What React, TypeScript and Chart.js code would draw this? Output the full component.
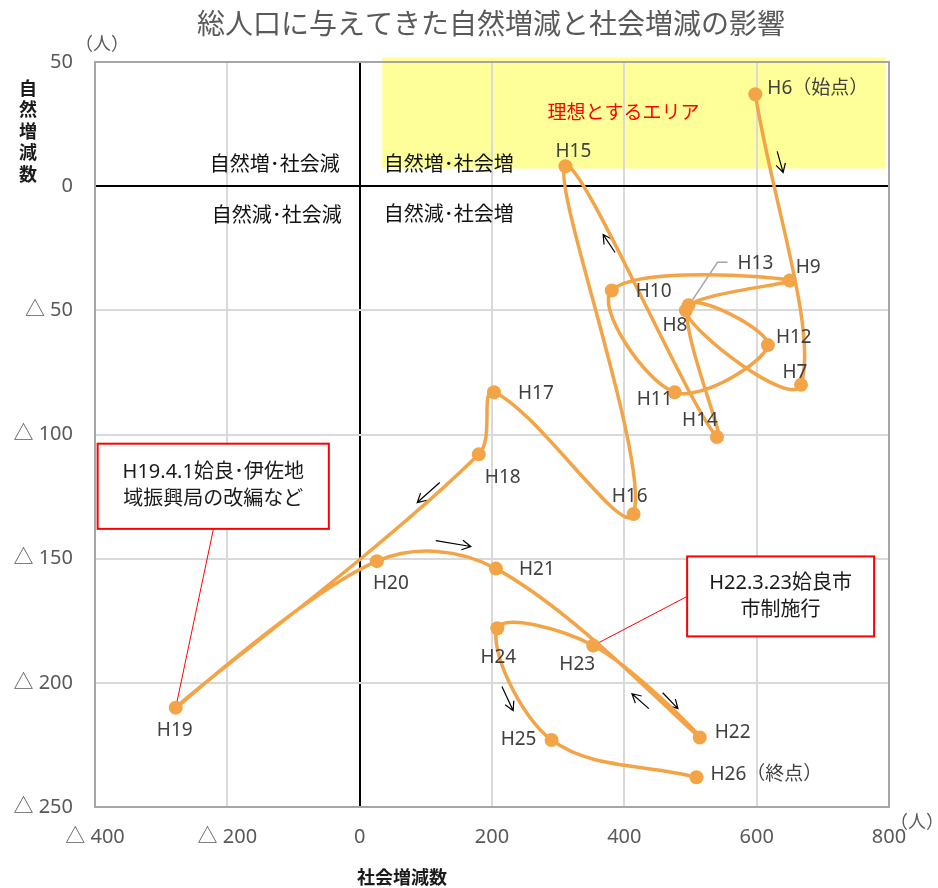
import React, { useEffect, useRef } from "react";
import { Chart, registerables } from "chart.js";

Chart.register(...registerables);

// ---- data ----
const pointLabels = [
  "H6（始点）", "H7", "H8", "H9", "H10", "H11", "H12", "H13", "H14", "H15", "H16",
  "H17", "H18", "H19", "H20", "H21", "H22", "H23", "H24", "H25", "H26（終点）",
];
const socialChange = [598, 667, 493, 650, 381, 476, 617, 497, 540, 311, 414, 203, 180, -278, 26, 206, 514, 353, 208, 290, 509];
const naturalChange = [37, -80, -50, -38, -42, -83, -64, -48, -101, 8, -132, -83, -108, -210, -151, -154, -222, -185, -178, -223, -238];

const xTickValues = [-400, -200, 0, 200, 400, 600, 800];
const yTickValues = [50, 0, -50, -100, -150, -200, -250];

const titleText = "総人口に与えてきた自然増減と社会増減の影響";
const xAxisTitle = "社会増減数";
const yAxisTitle = "自然増減数";
const unitText = "（人）";
const idealAreaText = "理想とするエリア";
const quadrantTexts = ["自然増･社会減", "自然減･社会減", "自然増･社会増", "自然減･社会増"];
const note1Lines = ["H19.4.1姶良･伊佐地", "域振興局の改編など"];
const note2Lines = ["H22.3.23姶良市", "市制施行"];

// ---- styling / placement (not data) ----
const ORANGE = "#F2A446";
const LATIN = "'Noto Sans', 'Noto Sans CJK JP', sans-serif";
const CJK = "'Noto Sans CJK JP', 'Noto Sans', sans-serif";

// label offsets: [dx, dy, align]
const labelPlacement: [number, number, CanvasTextAlign][] = [
  [12, -6, "left"],   // H6
  [-6, -12, "center"], // H7
  [-11, 15, "center"], // H8
  [6, -13, "left"],   // H9
  [24, 1, "left"],    // H10
  [-20, 7, "center"], // H11
  [8, -8, "left"],    // H12
  [49, -42, "left"],  // H13
  [-17, -16, "center"], // H14
  [8, -15, "center"], // H15
  [-4, -17, "center"], // H16
  [24, 1, "left"],    // H17
  [24, 23, "center"], // H18
  [-1, 23, "center"], // H19
  [14, 22, "center"], // H20
  [23, 1, "left"],    // H21
  [15, -5, "left"],   // H22
  [-16, 19, "center"], // H23
  [1, 29, "center"],  // H24
  [-33, 0, "center"], // H25
  [14, -3, "left"],   // H26
];

// arrows in data units: [x1, y1, x2(head), y2(head)]
const arrows = [
  [631, 14, 640, 5.5],
  [386, -26.7, 368, -19.5],
  [121, -119.3, 87, -127.4],
  [115, -142.7, 168, -145.1],
  [458, -204, 481, -210.4],
  [437, -210.4, 411.5, -204.4],
  [215, -201.5, 232, -211.2],
];

const idealArea = { x1: 34, x2: 795, y1: 51.8, y2: 7.1 };
const note1Box = { x1: -396, x2: -46.6, y1: -103.7, y2: -138, anchorX: -221, target: 13 };
const note2Box = { x1: 494.9, x2: 777.5, y1: -149.1, y2: -181.3, target: 17 };

function fmt(v: number) {
  return v < 0 ? "△ " + -v : String(v);
}

const decorPlugin = {
  id: "decor",
  beforeDraw(chart: any) {
    const { ctx, scales } = chart;
    const xs = scales.x, ys = scales.y;
    ctx.save();
    ctx.fillStyle = "#FFFF99";
    const x1 = xs.getPixelForValue(idealArea.x1);
    const x2 = xs.getPixelForValue(idealArea.x2);
    const y1 = ys.getPixelForValue(idealArea.y1);
    const y2 = ys.getPixelForValue(idealArea.y2);
    ctx.fillRect(x1, y1, x2 - x1, y2 - y1);
    ctx.restore();
  },
  beforeDatasetsDraw(chart: any) {
    const { ctx, chartArea: a, scales } = chart;
    const xs = scales.x, ys = scales.y;
    ctx.save();
    // plot border
    ctx.strokeStyle = "#A6A6A6";
    ctx.lineWidth = 2;
    ctx.strokeRect(a.left, a.top, a.right - a.left, a.bottom - a.top);

    // quadrant texts
    const x0 = xs.getPixelForValue(0);
    const y0 = ys.getPixelForValue(0);
    ctx.font = "20px " + CJK;
    ctx.fillStyle = "#111111";
    ctx.textBaseline = "middle";
    ctx.textAlign = "right";
    ctx.fillText(quadrantTexts[0], x0 - 20, y0 - 23);
    ctx.fillText(quadrantTexts[1], x0 - 18, y0 + 28);
    ctx.textAlign = "left";
    ctx.fillText(quadrantTexts[2], x0 + 24, y0 - 23);
    ctx.fillText(quadrantTexts[3], x0 + 24, y0 + 27);

    // ideal area text
    ctx.font = "19px " + CJK;
    ctx.fillStyle = "#FF0000";
    ctx.fillText(idealAreaText, xs.getPixelForValue(284), ys.getPixelForValue(30));

    // arrows
    ctx.strokeStyle = "#000";
    ctx.lineWidth = 1.2;
    for (const [ax1, ay1, ax2, ay2] of arrows) {
      const p1x = xs.getPixelForValue(ax1), p1y = ys.getPixelForValue(ay1);
      const p2x = xs.getPixelForValue(ax2), p2y = ys.getPixelForValue(ay2);
      const ang = Math.atan2(p2y - p1y, p2x - p1x);
      const L = 10;
      ctx.beginPath();
      ctx.moveTo(p1x, p1y);
      ctx.lineTo(p2x, p2y);
      ctx.moveTo(p2x - L * Math.cos(ang - 0.5), p2y - L * Math.sin(ang - 0.5));
      ctx.lineTo(p2x, p2y);
      ctx.lineTo(p2x - L * Math.cos(ang + 0.5), p2y - L * Math.sin(ang + 0.5));
      ctx.stroke();
    }

    // note boxes
    const meta = chart.getDatasetMeta(0);
    const drawBox = (b: any, lines: string[], anchor: (bx1: number, by1: number, bx2: number, by2: number) => [number, number]) => {
      const bx1 = xs.getPixelForValue(b.x1), bx2 = xs.getPixelForValue(b.x2);
      const by1 = ys.getPixelForValue(b.y1), by2 = ys.getPixelForValue(b.y2);
      const pt = meta.data[b.target];
      const [lx, ly] = anchor(bx1, by1, bx2, by2);
      ctx.strokeStyle = "#FF0000";
      ctx.lineWidth = 1;
      ctx.beginPath();
      ctx.moveTo(lx, ly);
      ctx.lineTo(pt.x, pt.y);
      ctx.stroke();
      ctx.fillStyle = "#FFFFFF";
      ctx.fillRect(bx1, by1, bx2 - bx1, by2 - by1);
      ctx.lineWidth = 2;
      ctx.strokeRect(bx1, by1, bx2 - bx1, by2 - by1);
      ctx.fillStyle = "#1a1a1a";
      ctx.font = "20px " + LATIN;
      ctx.textAlign = "center";
      ctx.textBaseline = "middle";
      const cx = (bx1 + bx2) / 2;
      const cy = (by1 + by2) / 2;
      lines.forEach((t, i) => ctx.fillText(t, cx, cy + (i - (lines.length - 1) / 2) * 27));
    };
    drawBox(note1Box, note1Lines, (bx1, by1, bx2, by2) => [xs.getPixelForValue(note1Box.anchorX), by2]);
    drawBox(note2Box, note2Lines, (bx1, by1, bx2, by2) => [bx1, (by1 + by2) / 2]);

    // H13 leader
    const p13 = meta.data[7];
    ctx.strokeStyle = "#A6A6A6";
    ctx.lineWidth = 1.5;
    ctx.beginPath();
    ctx.moveTo(p13.x + 39, p13.y - 43);
    ctx.lineTo(p13.x + 29, p13.y - 43);
    ctx.lineTo(p13.x + 1, p13.y - 1);
    ctx.stroke();
    ctx.restore();
  },
  afterDatasetsDraw(chart: any) {
    const { ctx } = chart;
    const meta = chart.getDatasetMeta(0);
    ctx.save();
    ctx.font = "19px " + LATIN;
    ctx.fillStyle = "#404040";
    ctx.textBaseline = "middle";
    meta.data.forEach((el: any, i: number) => {
      const [dx, dy, al] = labelPlacement[i];
      ctx.textAlign = al;
      ctx.fillText(pointLabels[i], el.x + dx, el.y + dy);
    });
    ctx.restore();
  },
  afterDraw(chart: any) {
    const { ctx } = chart;
    ctx.save();
    ctx.textBaseline = "middle";
    ctx.textAlign = "center";
    ctx.fillStyle = "#595959";
    ctx.font = "28px " + CJK;
    ctx.fillText(titleText, 491, 23);
    ctx.font = "18px " + CJK;
    ctx.fillText(unitText, 102, 43);
    ctx.fillText(unitText, 917, 821);
    ctx.fillStyle = "#1a1a1a";
    ctx.font = "bold 18px " + CJK;
    ctx.fillText(xAxisTitle, 402, 877);
    const chars = Array.from(yAxisTitle);
    chars.forEach((c, i) => ctx.fillText(c, 28, 88 + i * 21.5));
    ctx.restore();
  },
};

export default function App() {
  const ref = useRef<HTMLCanvasElement | null>(null);
  useEffect(() => {
    document.body.style.margin = "0";
    const canvas = ref.current!;
    const chart = new Chart(canvas, {
      type: "scatter",
      data: {
        datasets: [
          {
            data: socialChange.map((x, i) => ({ x, y: naturalChange[i] })),
            showLine: true,
            tension: 0.36,
            borderColor: ORANGE,
            borderWidth: 3.5,
            backgroundColor: ORANGE,
            pointBackgroundColor: ORANGE,
            pointBorderWidth: 0,
            pointRadius: 7,
          },
        ],
      },
      options: {
        responsive: false,
        animation: false,
        events: [],
        layout: { padding: { top: 62, right: 49, left: 0, bottom: 0 } },
        plugins: { legend: { display: false }, tooltip: { enabled: false }, title: { display: false } },
        scales: {
          x: {
            type: "linear",
            min: -400,
            max: 800,
            afterBuildTicks: (s: any) => { s.ticks = xTickValues.map((v) => ({ value: v })); },
            afterFit: (s: any) => { s.height = 81; },
            ticks: { callback: (v: any) => fmt(Number(v)), color: "#595959", font: { size: 20, family: LATIN }, padding: 18, maxRotation: 0, autoSkip: false },
            grid: {
              drawTicks: false,
              color: (c: any) => (c.tick && c.tick.value === 0 ? "#000000" : "#D9D9D9"),
              lineWidth: 2,
            },
            border: { display: true, color: "#A6A6A6", width: 2 },
          },
          y: {
            type: "linear",
            min: -250,
            max: 50,
            afterBuildTicks: (s: any) => { s.ticks = yTickValues.map((v) => ({ value: v })); },
            afterFit: (s: any) => { s.width = 95; },
            ticks: { callback: (v: any) => fmt(Number(v)), color: "#595959", font: { size: 20, family: LATIN }, padding: 22, autoSkip: false },
            grid: {
              drawTicks: false,
              color: (c: any) => (c.tick && c.tick.value === 0 ? "#000000" : "#D9D9D9"),
              lineWidth: 2,
            },
            border: { display: true, color: "#A6A6A6", width: 2 },
          },
        },
      },
      plugins: [decorPlugin],
    });
    return () => chart.destroy();
  }, []);
  return (
    <div style={{ width: 938, height: 888 }}>
      <canvas ref={ref} width={938} height={888} style={{ display: "block" }} />
    </div>
  );
}
